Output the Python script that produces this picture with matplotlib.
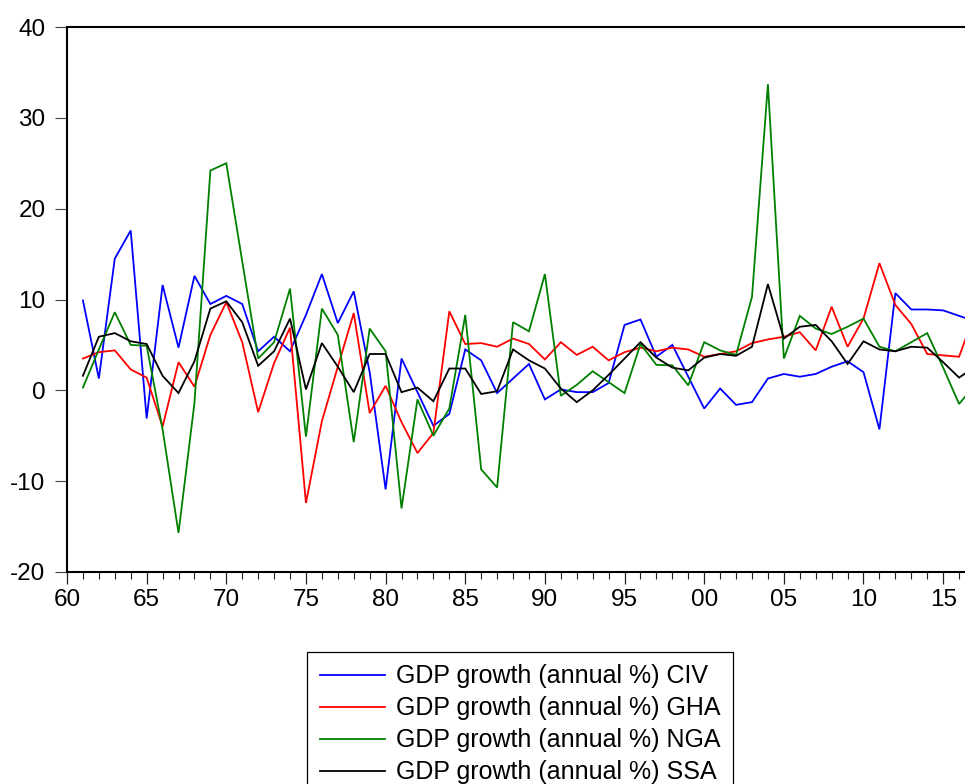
import matplotlib
matplotlib.use("Agg")
import matplotlib.pyplot as plt

years = list(range(1961, 2018))

civ = [9.9, 1.3, 14.5, 17.6, -3.1, 11.6, 4.7, 12.6, 9.5, 10.4,
       9.5, 4.3, 5.9, 4.3, 8.3, 12.8, 7.4, 10.9, 2.0, -10.9,
       3.5, -0.2, -3.9, -2.6, 4.5, 3.3, -0.3, 1.3, 2.9, -1.0,
       0.1, -0.2, -0.2, 0.8, 7.2, 7.8, 3.7, 5.0, 1.5, -2.0,
       0.2, -1.6, -1.3, 1.3, 1.8, 1.5, 1.8, 2.6, 3.2, 2.0,
       -4.3, 10.7, 8.9, 8.9, 8.8, 8.2, 7.6]
gha = [3.5, 4.2, 4.4, 2.3, 1.4, -4.0, 3.1, 0.4, 6.1, 9.7,
       5.3, -2.4, 3.0, 6.9, -12.4, -3.4, 2.6, 8.5, -2.5, 0.5,
       -3.5, -6.9, -4.7, 8.7, 5.1, 5.2, 4.8, 5.7, 5.1, 3.4,
       5.3, 3.9, 4.8, 3.3, 4.2, 4.7, 4.3, 4.7, 4.5, 3.7,
       4.0, 4.3, 5.2, 5.6, 5.9, 6.4, 4.4, 9.2, 4.8, 7.9,
       14.0, 9.4, 7.3, 4.0, 3.85, 3.7, 8.5]
nga = [0.3, 4.5, 8.6, 5.0, 4.9, -4.3, -15.7, -1.4, 24.2, 25.0,
       14.2, 3.5, 5.3, 11.2, -5.1, 9.0, 6.1, -5.7, 6.8, 4.3,
       -13.0, -1.0, -5.0, -2.0, 8.3, -8.7, -10.7, 7.5, 6.5, 12.8,
       -0.6, 0.6, 2.1, 0.9, -0.3, 5.1, 2.8, 2.75, 0.55, 5.3,
       4.4, 3.9, 10.3, 33.7, 3.5, 8.2, 6.8, 6.2, 7.0, 7.9,
       4.8, 4.3, 5.3, 6.3, 2.5, -1.5, 0.6]
ssa = [1.6, 5.9, 6.3, 5.4, 5.1, 1.6, -0.3, 3.2, 9.0, 9.8,
       7.5, 2.7, 4.3, 7.9, 0.1, 5.2, 2.6, -0.2, 4.0, 4.0,
       -0.2, 0.3, -1.2, 2.4, 2.4, -0.4, -0.1, 4.5, 3.3, 2.4,
       0.2, -1.3, 0.0, 1.7, 3.5, 5.3, 3.6, 2.5, 2.2, 3.6,
       4.0, 3.8, 4.8, 11.7, 5.7, 7.0, 7.2, 5.4, 2.9, 5.4,
       4.5, 4.3, 4.8, 4.7, 3.1, 1.4, 2.6]

series_labels = ["GDP growth (annual %) CIV", "GDP growth (annual %) GHA",
                 "GDP growth (annual %) NGA", "GDP growth (annual %) SSA"]
series_colors = ["#0000FF", "#FF0000", "#008000", "#000000"]

xtick_pos = list(range(1960, 2016, 5))
xtick_labels = ["60", "65", "70", "75", "80", "85", "90", "95",
                "00", "05", "10", "15"]
ytick_pos = [-20, -10, 0, 10, 20, 30, 40]
ytick_labels = ["-20", "-10", "0", "10", "20", "30", "40"]

plt.rcParams['font.family'] = ['Liberation Sans', 'DejaVu Sans']

W, H = 965, 784
fig = plt.figure(figsize=(W / 100, H / 100), dpi=100)
ax = fig.add_axes([67 / W, 1 - 572 / H, (W - 67) / W, (572 - 27) / H])

handles = []
for vals, col, lab in zip([civ, gha, nga, ssa], series_colors, series_labels):
    ln, = ax.plot(years, vals, color=col, lw=1.3, label=lab, solid_joinstyle='miter')
    handles.append(ln)

ax.set_xlim(1960, 1960 + (W - 67) / 15.93)
ax.set_ylim(-20, 40)
ax.set_xticks(xtick_pos)
ax.set_xticklabels(xtick_labels)
ax.set_xticks(list(range(1961, 2017)), minor=True)
ax.set_yticks(ytick_pos)
ax.set_yticklabels(ytick_labels)

for side in ['left', 'top', 'bottom']:
    ax.spines[side].set_linewidth(1.5)
    ax.spines[side].set_color('black')
ax.spines['right'].set_visible(False)

ax.tick_params(axis='y', which='major', direction='out', length=8.5, width=0.8,
               color='#444444', labelsize=17.5, pad=7)
ax.tick_params(axis='x', which='major', direction='out', length=8.5, width=0.9,
               color='#222222', labelsize=17.5, pad=4)
ax.tick_params(axis='x', which='minor', direction='out', length=5, width=0.8,
               color='#222222')

leg = fig.legend(handles=handles, labels=series_labels,
                 loc='upper left', bbox_to_anchor=(307 / W, 1 - 652 / H),
                 bbox_transform=fig.transFigure, borderaxespad=0,
                 frameon=True, fancybox=False, framealpha=1, edgecolor='black',
                 fontsize=18, handlelength=2.6, handletextpad=0.46,
                 labelspacing=0.32, borderpad=0.5)
leg.get_frame().set_linewidth(0.9)

fig.savefig("out.png", dpi=100)
